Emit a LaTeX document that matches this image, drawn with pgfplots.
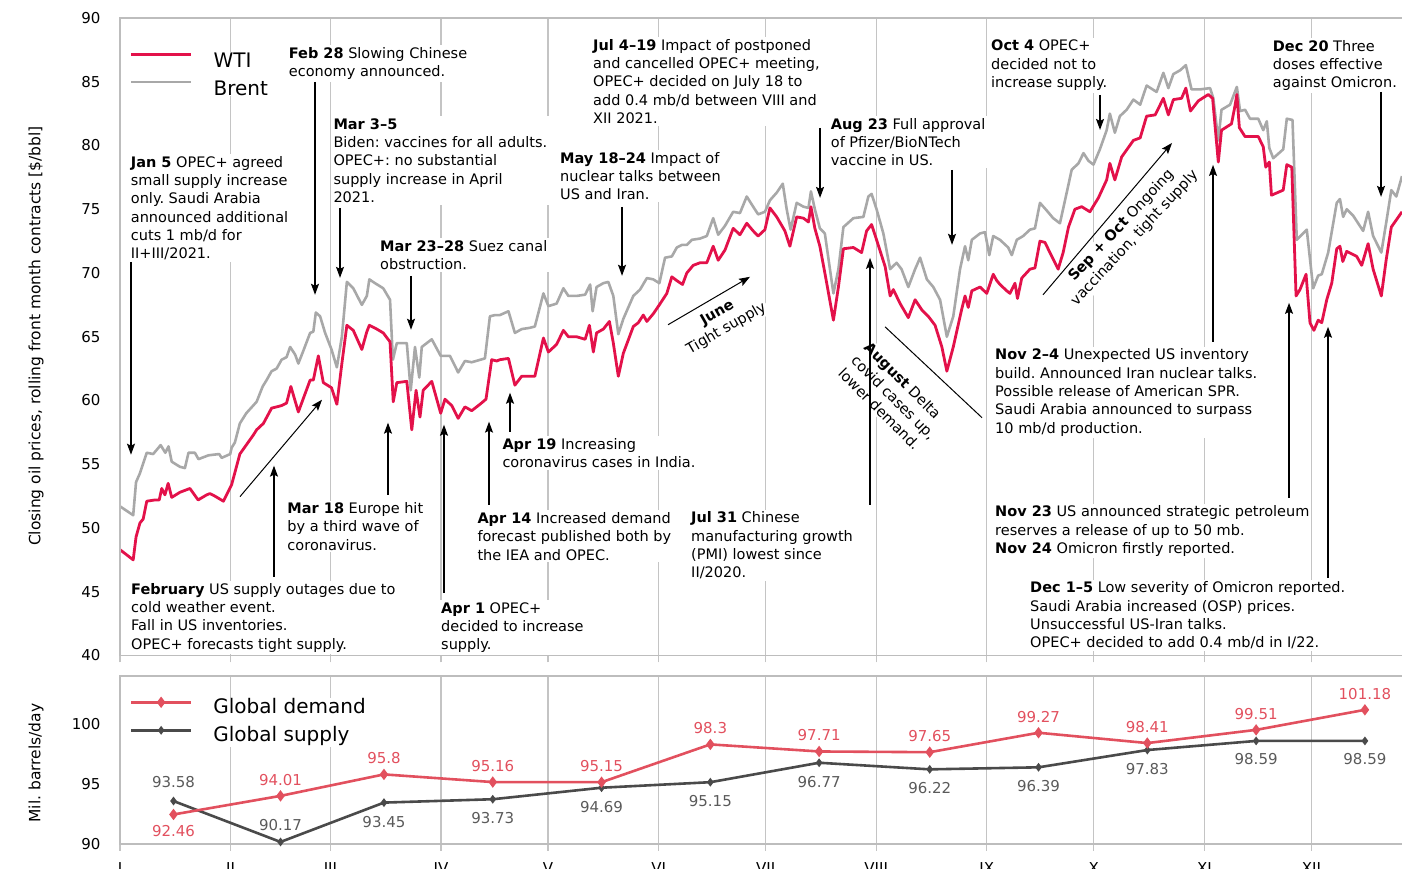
\documentclass[border=0pt]{standalone}
\usepackage{fontspec}
\setmainfont{DejaVu Sans}
\usepackage{pgfplots}
\pgfplotsset{compat=1.18}
\usepackage{pgfplotstable}
\usetikzlibrary{arrows.meta}

\definecolor{wti}{HTML}{E3114A}
\definecolor{brent}{HTML}{A8A8A8}
\definecolor{demand}{HTML}{E2505E}
\definecolor{supply}{HTML}{4A4A4A}
\definecolor{supplylab}{HTML}{5A5A5A}
\definecolor{gridc}{HTML}{C4C4C4}
\definecolor{framec}{HTML}{BDBDBD}

\newcommand{\ann}{\fontsize{14.5}{18.3}\selectfont}
\frenchspacing

% day of year (Jan 1 = 0), closing price in $/bbl
\pgfplotstableread{
d v
0 51.7
3.7 51.0
4.5 53.6
5.6 54.3
7.5 55.9
9.3 55.8
11.4 56.5
12.7 55.9
13.6 56.4
14.5 55.2
16.8 54.8
18.2 54.7
19.2 55.9
21.0 55.9
22.0 55.4
24.8 55.7
27.8 55.8
28.5 55.5
30.9 55.8
31.3 56.3
32.2 56.7
33.6 58.2
35.4 59.0
38.3 59.9
40.0 61.1
41.1 61.6
42.5 62.3
43.9 62.5
45.3 63.2
46.7 63.4
47.7 64.2
49.1 63.6
50.0 62.9
51.4 63.9
53.3 65.3
54.2 65.4
54.9 66.9
56.1 66.6
57.5 65.3
59.3 64.0
60.8 62.6
62.2 65.0
63.6 69.3
65.4 68.8
67.8 67.5
69.2 68.2
69.9 69.5
71.5 69.2
73.8 68.8
75.7 67.9
76.5 63.2
77.6 64.5
80.4 64.5
81.5 60.8
82.7 64.2
83.9 61.8
84.6 64.2
87.4 64.8
89.9 63.5
92.5 63.5
94.8 62.2
96.7 63.1
98.6 63.0
102.3 63.3
103.7 66.6
105.1 66.7
106.5 66.7
108.9 67.0
110.7 65.3
112.6 65.6
114.9 65.7
116.3 65.8
118.7 68.4
120.1 67.4
122.4 67.6
124.3 68.8
125.7 68.2
128.0 68.2
130.4 68.3
131.8 69.1
132.5 67.0
133.6 68.9
135.5 69.2
136.9 69.3
138.3 68.2
139.7 65.2
141.1 66.4
143.9 68.2
145.8 68.7
147.7 69.6
149.5 69.5
151.2 69.2
152.8 71.2
154.7 71.3
156.1 72.0
157.5 72.2
158.9 72.2
160.3 72.6
162.6 72.7
164.5 72.9
166.3 74.3
167.7 73.0
169.6 73.7
171.9 74.8
173.8 74.7
175.7 76.0
177.5 75.2
178.9 74.6
180.8 74.8
182.2 75.7
184.1 76.3
185.8 77.0
186.9 75.0
188.0 73.4
189.7 75.5
191.6 75.2
193.0 75.1
193.7 76.4
194.8 75.0
196.2 73.5
197.6 73.1
200.0 68.4
201.4 70.3
202.8 73.6
205.6 74.3
208.4 74.4
209.8 76.0
210.7 76.2
212.1 75.0
214.0 73.1
215.9 70.3
217.7 70.8
219.1 70.3
221.0 68.9
222.9 70.3
224.3 71.2
226.2 69.5
228.0 68.9
229.9 67.9
231.8 65.0
233.6 66.6
235.5 70.3
236.9 72.1
237.8 71.0
238.8 72.6
241.1 73.1
242.5 73.2
243.7 71.4
244.8 72.9
246.7 72.6
249.0 72.0
250.0 71.4
251.4 72.6
253.2 72.9
255.1 73.4
256.5 73.5
257.9 75.5
259.8 74.9
261.6 74.3
263.5 73.9
265.4 76.3
266.8 78.1
268.7 78.6
270.1 79.4
271.5 78.8
272.9 78.5
274.7 79.7
276.6 81.2
277.5 82.5
278.9 81.0
280.3 82.3
282.2 82.8
284.1 83.6
286.0 83.2
287.8 84.7
290.6 84.2
292.5 85.7
293.9 84.5
295.3 85.6
297.2 85.9
298.8 86.3
300.4 84.4
302.8 84.4
305.6 84.5
306.5 83.7
307.9 80.4
308.8 82.8
311.2 83.2
313.1 84.6
314.0 82.7
315.4 82.8
316.8 82.1
319.1 82.1
320.5 81.2
321.5 81.9
322.2 79.8
323.3 79.0
326.1 79.7
327.1 82.1
328.7 82.0
329.9 72.6
331.3 73.0
332.7 73.4
334.5 68.8
335.9 69.8
336.9 69.9
338.7 71.6
341.1 75.5
342.0 75.8
342.9 74.4
343.9 75.0
345.7 74.5
347.1 73.9
348.5 73.3
349.9 74.8
351.3 72.9
353.6 71.6
355.0 74.0
356.4 76.5
357.8 76.0
359.4 77.6
}\brent

\pgfplotstableread{
d v
0 48.3
3.7 47.5
4.5 49.3
5.6 50.4
6.5 50.7
7.5 52.1
9.8 52.2
11.0 52.2
11.7 53.1
12.6 52.6
13.5 53.5
14.5 52.4
16.8 52.8
19.6 53.1
21.9 52.2
24.3 52.6
25.2 52.7
26.6 52.5
29.0 52.1
31.3 53.4
33.6 55.8
37.4 57.3
38.3 57.7
40.2 58.2
42.5 59.4
45.3 59.6
46.7 59.8
47.9 61.1
50.0 59.1
53.3 61.6
54.2 61.6
55.6 63.5
57.0 61.4
59.3 61.0
60.8 59.7
62.2 62.9
63.6 65.9
65.4 65.5
67.8 64.0
69.2 65.4
69.9 65.9
72.0 65.6
73.8 65.3
75.7 64.6
76.6 59.9
77.6 61.4
80.4 61.5
81.8 57.7
83.0 60.8
84.1 58.7
85.0 60.8
87.4 61.5
89.9 59.0
91.1 60.1
93.0 59.6
94.8 58.6
96.7 59.5
98.6 59.2
100.9 59.7
102.6 60.1
104.2 63.2
105.6 63.1
106.5 63.2
108.9 63.3
110.7 61.2
112.6 61.9
114.9 61.9
116.3 61.9
118.7 64.9
120.1 63.8
122.4 64.4
124.3 65.5
125.7 65.0
128.0 65.0
130.4 64.8
131.6 65.9
132.7 63.8
133.6 65.3
135.5 65.6
137.2 66.2
138.3 64.5
139.7 61.9
141.1 63.7
143.9 65.8
145.3 66.1
146.7 66.7
147.7 66.2
149.5 66.8
151.2 67.5
153.3 68.4
154.7 69.7
156.1 69.4
157.7 69.1
158.9 70.0
160.7 70.6
162.6 70.8
164.5 70.8
166.3 72.1
167.7 71.0
169.6 71.8
171.9 73.5
173.8 73.0
175.7 73.9
177.5 73.3
178.9 72.9
180.8 73.4
182.2 75.1
184.1 74.4
186.4 73.3
187.8 72.1
189.7 74.4
191.6 74.3
193.0 74.0
193.7 75.2
194.8 73.5
196.2 72.1
197.6 70.0
200.0 66.3
201.4 68.9
202.8 71.9
205.6 72.0
207.9 71.6
209.3 73.3
210.7 73.8
212.1 72.6
214.5 70.5
215.9 68.2
216.8 68.7
218.7 67.6
221.0 66.5
222.9 67.9
224.8 67.1
226.6 66.6
228.5 65.9
230.4 64.2
231.8 62.3
233.6 64.2
236.0 67.2
236.9 68.2
237.8 67.3
238.8 68.6
241.1 68.9
243.0 68.4
244.8 69.9
245.8 69.4
246.7 69.1
248.6 68.6
249.5 68.4
250.9 69.2
251.6 68.0
252.8 69.6
255.1 70.3
256.5 70.4
257.9 72.5
259.3 72.4
260.7 71.6
263.0 70.3
264.4 71.6
265.9 73.6
267.7 75.0
269.6 75.2
271.9 74.8
274.3 75.9
276.6 77.3
277.5 78.6
278.9 77.3
280.8 79.1
284.1 80.4
286.0 80.6
287.8 82.3
290.2 82.4
292.5 83.7
293.9 82.4
295.3 83.6
297.6 83.7
298.8 84.5
300.1 82.7
302.3 83.5
305.1 84.0
306.3 83.7
307.9 78.7
308.8 81.2
311.6 81.7
312.5 83.0
313.1 84.0
313.8 81.4
315.4 80.7
319.1 80.7
320.5 79.9
321.2 78.3
322.2 78.7
322.8 76.1
326.1 76.5
327.1 78.5
328.5 78.3
329.7 68.2
330.8 68.7
332.5 69.9
333.6 66.1
334.7 65.5
335.9 66.3
336.9 66.1
338.3 67.9
339.7 69.2
341.1 71.9
342.0 72.1
342.8 70.9
343.9 71.7
346.7 71.3
348.1 70.6
349.9 72.3
351.3 70.3
353.6 68.2
355.0 71.1
356.4 73.6
359.4 74.8
}\wti

% monthly global demand and supply, mb/d; off = label shift in pt
\pgfplotstableread{
d y lab off
15 92.46 92.46 -17
45 94.01 94.01 16
74 95.8 95.8 16
104.5 95.16 95.16 16
135 95.15 95.15 16
165.5 98.3 98.3 16
196 97.71 97.71 16
227 97.65 97.65 16
257.5 99.27 99.27 16
288 98.41 98.41 16
318.5 99.51 99.51 16
349 101.18 101.18 16
}\demand

\pgfplotstableread{
d y lab off
15 93.58 93.58 19
45 90.17 90.17 17
74 93.45 93.45 -19
104.5 93.73 93.73 -19
135 94.69 94.69 -19
165.5 95.15 95.15 -19
196 96.77 96.77 -19
227 96.22 96.22 -19
257.5 96.39 96.39 -19
288 97.83 97.83 -19
318.5 98.59 98.59 -18
349 98.59 98.59 -18
}\supply

\pgfplotsset{
  panel/.style={
    scale only axis, width=1282pt, xmin=0, xmax=359.4,
    axis line style={draw=none},
    xtick={0,31,59,90,120,151,181,212,243,273,304,334},
    xmajorgrids, grid style={gridc, line width=1.3pt},
    tick align=outside, major tick length=7pt,
    x tick style={gridc, line width=1.3pt},
    ytick style={draw=none},
    xtick pos=bottom, ytick pos=left,
    /pgf/number format/assume math mode=true,
    tick label style={font=\fontsize{15}{18}\selectfont},
    yticklabel style={xshift=-9pt},
    clip=false, reverse legend,
  },
}

\begin{document}
\begin{tikzpicture}[
  note/.style={anchor=north west, align=left, fill=white, inner sep=2pt, font=\ann},
  arr/.style={-{Stealth[length=11pt,width=8pt,inset=2pt]}, line width=1.3pt},
]
% ---------- top panel: oil prices ----------
\begin{axis}[panel, at={(120pt,213.5pt)}, anchor=south west, height=637.5pt,
  ymin=40, ymax=90, ytick={40,45,...,90}, xticklabels={},
  legend style={at={(axis cs:2.7,87.35)}, anchor=north west, draw=none, fill=white,
    font=\fontsize{20}{24}\selectfont, inner sep=0pt, row sep=10.5pt, column sep=20pt,
    nodes={inner sep=1pt, text height=15pt, text depth=0pt}},
  legend cell align=left,
  legend image code/.code={\draw[#1] (0pt,6pt) -- (60pt,6pt);},
]
\node[note] at (axis cs:2.44,79.34) {\textbf{Jan 5} OPEC+ agreed\\small supply increase\\only. Saudi Arabia\\announced additional\\cuts 1 mb/d for\\II+III/2021.};
\node[note] at (axis cs:46.73,87.86) {\textbf{Feb 28} Slowing Chinese\\economy announced.};
\node[note] at (axis cs:59.24,82.30) {\textbf{Mar 3–5}\\Biden: vaccines for all adults.\\OPEC+: no substantial\\supply increase in April\\2021.};
\node[note] at (axis cs:72.33,72.76) {\textbf{Mar 23–28} Suez canal\\obstruction.};
\node[note] at (axis cs:122.79,79.66) {\textbf{May 18–24} Impact of\\nuclear talks between\\US and Iran.};
\node[note] at (axis cs:132.04,88.51) {\textbf{Jul 4–19} Impact of postponed\\and cancelled OPEC+ meeting,\\OPEC+ decided on July 18 to\\add 0.4 mb/d between VIII and\\XII 2021.};
\node[note] at (axis cs:198.68,82.30) {\textbf{Aug 23} Full approval\\of Pfizer/BioNTech\\vaccine in US.};
\node[note] at (axis cs:243.62,88.43) {\textbf{Oct 4} OPEC+\\decided not to\\increase supply.};
\node[note] at (axis cs:322.60,88.43) {\textbf{Dec 20} Three\\doses effective\\against Omicron.};
\node[note] at (axis cs:159.52,51.44) {\textbf{Jul 31} Chinese\\manufacturing growth\\(PMI) lowest since\\II/2020.};
\node[note] at (axis cs:46.34,52.17) {\textbf{Mar 18} Europe hit\\by a third wave of\\coronavirus.};
\node[note] at (axis cs:2.52,45.85) {\textbf{February} US supply outages due to\\cold weather event.\\Fall in US inventories.\\OPEC+ forecasts tight supply.};
\node[note] at (axis cs:89.43,44.33) {\textbf{Apr 1} OPEC+\\decided to increase\\supply.};
\node[note] at (axis cs:99.61,51.39) {\textbf{Apr 14} Increased demand\\forecast published both by\\the IEA and OPEC.};
\node[note] at (axis cs:106.62,57.22) {\textbf{Apr 19} Increasing\\coronavirus cases in India.};
\node[note] at (axis cs:244.75,64.22) {\textbf{Nov 2–4} Unexpected US inventory\\build. Announced Iran nuclear talks.\\Possible release of American SPR.\\Saudi Arabia announced to surpass\\10 mb/d production.};
\node[note] at (axis cs:244.75,51.91) {\textbf{Nov 23} US announced strategic petroleum\\reserves a release of up to 50 mb.\\\textbf{Nov 24} Omicron firstly reported.};
\node[note] at (axis cs:254.56,45.96) {\textbf{Dec 1–5} Low severity of Omicron reported.\\Saudi Arabia increased (OSP) prices.\\Unsuccessful US-Iran talks.\\OPEC+ decided to add 0.4 mb/d in I/22.};
\node[note, anchor=center, align=center, rotate=30] at (axis cs:168.77,66.25) {\textbf{June}\\Tight supply};
\node[note, rotate=-45] at (axis cs:210.54,64.92) {\textbf{August} Delta\\covid cases up,\\lower demand.};
\node[note, anchor=center, align=center, rotate=47] at (axis cs:282.59,73.23) {\textbf{Sep + Oct} Ongoing\\vaccination, tight supply};

\addplot[brent, line width=2.6pt, line join=round] table[x=d, y=v] {\brent};
\addlegendentry{Brent}
\addplot[wti, line width=2.8pt, line join=round] table[x=d, y=v] {\wti};
\addlegendentry{WTI}

\draw[arr] (axis cs:3.08,70.88) -- (axis cs:3.08,55.75);
\draw[arr] (axis cs:54.67,84.98) -- (axis cs:54.67,68.29);
\draw[arr] (axis cs:61.68,75.11) -- (axis cs:61.68,69.62);
\draw[arr] (axis cs:81.58,69.78) -- (axis cs:81.58,65.55);
\draw[arr] (axis cs:140.74,75.19) -- (axis cs:140.74,69.78);
\draw[arr] (axis cs:196.25,81.38) -- (axis cs:196.25,75.89);
\draw[arr] (axis cs:233.25,78.09) -- (axis cs:233.25,72.21);
\draw[arr] (axis cs:274.74,83.97) -- (axis cs:274.74,81.22);
\draw[arr] (axis cs:353.52,84.20) -- (axis cs:353.52,75.97);
\draw[arr] (axis cs:210.26,51.83) -- (axis cs:210.26,71.19);
\draw[arr] (axis cs:75.13,52.62) -- (axis cs:75.13,58.26);
\draw[arr] (axis cs:43.17,46.19) -- (axis cs:43.17,54.89);
\draw[arr, line width=1pt] (axis cs:33.64,52.46) -- (axis cs:56.63,60.06);
\draw[arr] (axis cs:90.83,44.94) -- (axis cs:90.83,58.10);
\draw[arr] (axis cs:103.45,51.83) -- (axis cs:103.45,58.34);
\draw[arr] (axis cs:109.34,57.55) -- (axis cs:109.34,60.61);
\draw[arr] (axis cs:306.42,64.61) -- (axis cs:306.42,78.48);
\draw[arr] (axis cs:327.73,52.38) -- (axis cs:327.73,67.66);
\draw[arr] (axis cs:338.66,46.11) -- (axis cs:338.66,65.78);
\draw[arr, line width=1pt] (axis cs:153.63,65.94) -- (axis cs:176.62,69.70);
\draw[arr, line width=1pt] (axis cs:258.76,68.29) -- (axis cs:294.93,80.20);
\draw[line width=1pt] (axis cs:214.47,65.78) -- (axis cs:241.66,58.65);

\draw[framec, line width=1.3pt] (rel axis cs:1,1) -- (rel axis cs:0,1) -- (rel axis cs:0,0) -- (rel axis cs:1,0);
\end{axis}

% ---------- bottom panel: demand and supply ----------
\begin{axis}[panel, at={(120pt,25pt)}, anchor=south west, height=168pt,
  ymin=90, ymax=104, ytick={90,95,100},
  xticklabels={I,II,III,IV,V,VI,VII,VIII,IX,X,XI,XII},
  xticklabel style={yshift=-8pt},
  point meta=explicit symbolic,
  nodes near coords,
  visualization depends on={\thisrow{off} \as \labeloff},
  every node near coord/.append style={anchor=center, yshift=\labeloff pt,
    font=\fontsize{15}{18}\selectfont},
  legend style={at={(axis cs:2.7,102.2)}, anchor=north west, draw=none, fill=white,
    font=\fontsize{20}{24}\selectfont, inner sep=0pt, row sep=7pt, column sep=20pt,
    nodes={inner sep=1pt, text height=15pt, text depth=4pt}},
  legend cell align=left,
  legend image code/.code={\draw[mark repeat=2, mark phase=2, #1] plot coordinates {(0pt,6pt) (30pt,6pt) (60pt,6pt)};},
]
\addplot[supply, line width=2.6pt, mark=diamond*, mark size=2.3pt,
  every node near coord/.append style={text=supplylab}] table[x=d, y=y, meta=lab] {\supply};
\addlegendentry{Global supply}
\addplot[demand, line width=2.6pt, mark=diamond*, mark size=3.6pt,
  every node near coord/.append style={text=demand}] table[x=d, y=y, meta=lab] {\demand};
\addlegendentry{Global demand}
\draw[framec, line width=1.3pt] (rel axis cs:1,1) -- (rel axis cs:0,1) -- (rel axis cs:0,0) -- (rel axis cs:1,0);
\end{axis}

\node[rotate=90, font=\fontsize{15.5}{18}\selectfont] at (36pt,533pt) {Closing oil prices, rolling front month contracts [\$/bbl]};
\node[rotate=90, font=\fontsize{15.5}{18}\selectfont] at (36pt,106pt) {Mil. barrels/day};

\pgfresetboundingbox
\path[use as bounding box] (0pt,0pt) rectangle (1402pt,869pt);
\end{tikzpicture}
\end{document}
